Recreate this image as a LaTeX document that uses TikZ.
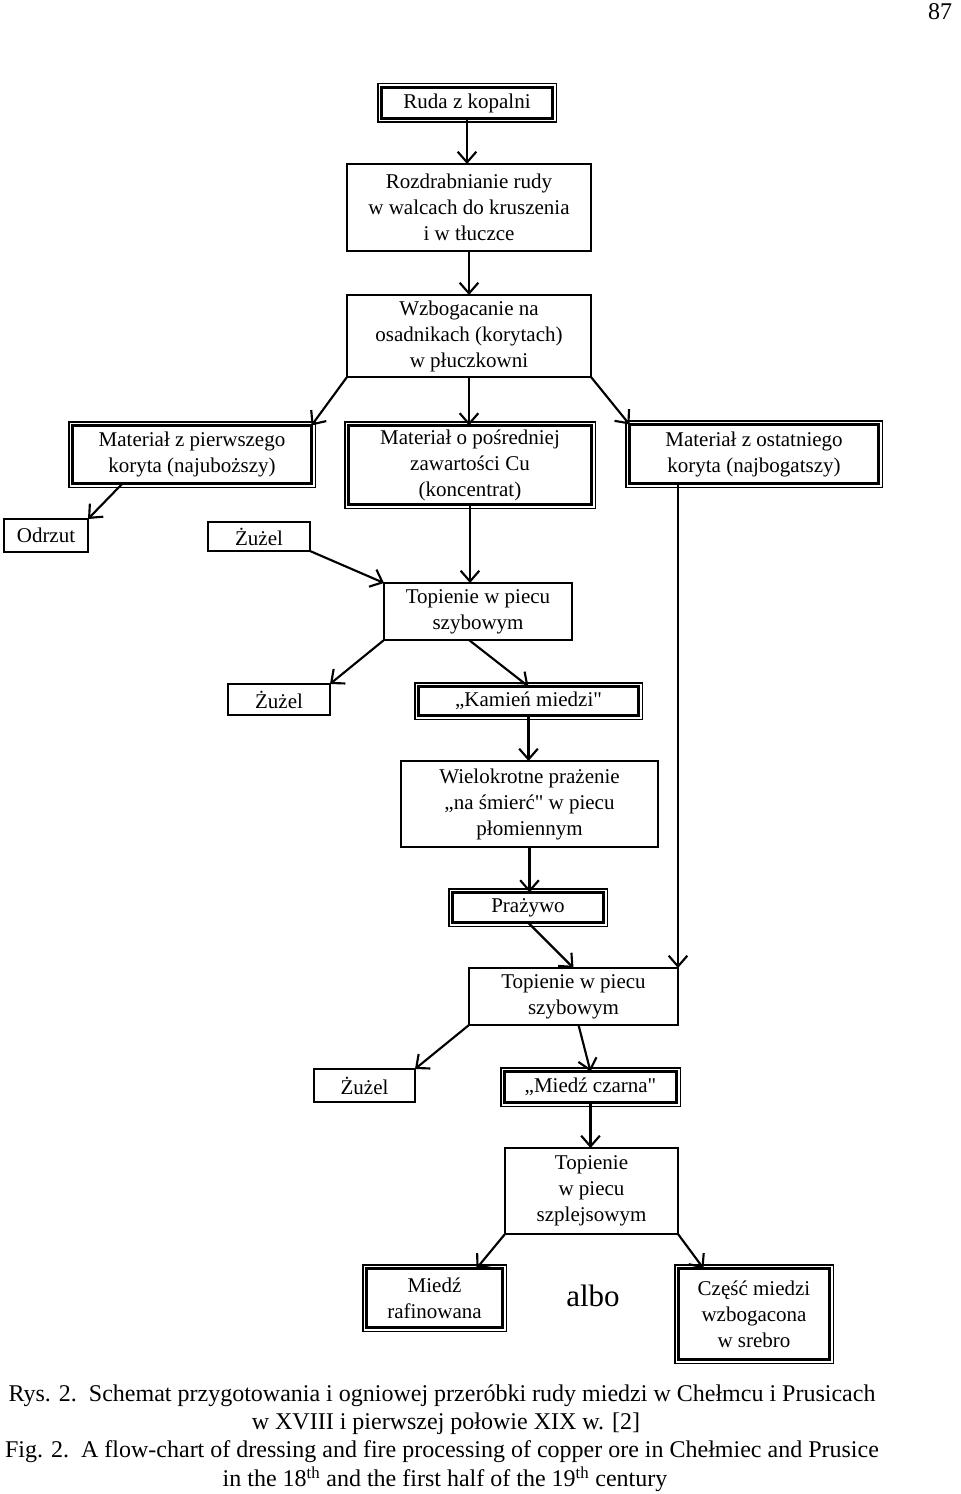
\documentclass[tikz,border=0pt]{standalone}
\usepackage{fontspec}
\setmainfont{Liberation Serif}[Ligatures=TeXOff]
\usetikzlibrary{arrows.meta,calc}
\newcommand\dblframe[1]{\draw[line width=0.9pt] ([shift={(-2.7pt,2.7pt)}]#1.north west) rectangle ([shift={(2.7pt,-2.7pt)}]#1.south east);}
\begin{document}
\begin{tikzpicture}[x=0.75pt,y=-0.75pt,
 box/.style={draw, line width=1.9pt, inner sep=0pt, outer sep=0pt, align=center,
   font=\fontsize{15.75pt}{19.5pt}\selectfont},
 dbox/.style={box, line width=1.6pt},
 sz/.style 2 args={minimum width=#1*0.75pt, minimum height=#2*0.75pt},
 arr/.style={line width=1.6pt, -{Straight Barb[length=8pt,width=14pt,line width=1.6pt]}},
 captext/.style={inner sep=0pt, font=\fontsize{18pt}{18pt}\selectfont},
]
\useasboundingbox (0,0) rectangle (960,1494);

\node[captext] (pg) at (940,12) {87};

\node[dbox, sz={171}{31}] (ruda) at (467,103) {Ruda z kopalni};
\dblframe{ruda}
\node[box, sz={244}{87}] (rozd) at (469,207.5) {Rozdrabnianie rudy\\w walcach do kruszenia\\i w tłuczce};
\node[box, sz={244}{82}] (wzbog) at (469,336) {Wzbogacanie na\\osadnikach (korytach)\\w płuczkowni};

\node[dbox, sz={239}{58}] (left) at (192,454.5) {Materiał z pierwszego\\koryta (najuboższy)};
\dblframe{left}
\node[dbox, sz={243}{79}] (mid) at (470,465) {Materiał o pośredniej\\zawartości Cu\\(koncentrat)};
\dblframe{mid}
\node[dbox, sz={249}{59}] (right) at (754,454) {Materiał z ostatniego\\koryta (najbogatszy)};
\dblframe{right}

\node[box, sz={84}{33}] (odrzut) at (46,535.5) {Odrzut};
\node[box, sz={102}{29}] (zuz1) at (259,536.5) {Żużel};
\node[box, sz={188}{57}] (top1) at (478,611.5) {Topienie w piecu\\szybowym};
\node[box, sz={102}{31}] (zuz2) at (279,699.5) {Żużel};
\node[dbox, sz={220}{29}] (kamien) at (528.5,701) {„Kamień miedzi"};
\dblframe{kamien}
\node[box, sz={257}{86}] (wielo) at (529.5,804) {Wielokrotne prażenie\\„na śmierć" w piecu\\płomiennym};
\node[dbox, sz={151}{30}] (praz) at (528,907.5) {Prażywo};
\dblframe{praz}
\node[box, sz={209}{57}] (top2) at (573.5,996.5) {Topienie w piecu\\szybowym};
\node[box, sz={101}{33}] (zuz3) at (364.5,1085.5) {Żużel};
\node[dbox, sz={172}{31}] (czarna) at (590.5,1087) {„Miedź czarna"};
\dblframe{czarna}
\node[box, sz={173}{86}] (top3) at (591.5,1191) {Topienie\\w piecu\\szplejsowym};
\node[dbox, sz={136}{59}] (raf) at (434.5,1298) {Miedź\\rafinowana};
\dblframe{raf}
\node[dbox, sz={151}{91}] (czesc) at (754,1314) {Część miedzi\\wzbogacona\\w srebro};
\dblframe{czesc}
\node[inner sep=0pt, anchor=base, font=\fontsize{23.25pt}{23.25pt}\selectfont] (albo) at (593,1306) {albo};

\draw[arr] (ruda.south) -- (ruda.south |- rozd.north);
\draw[arr] (rozd.south) -- (rozd.south |- wzbog.north);
\draw[arr] (wzbog.south west) -- (left.north east);
\draw[arr] (wzbog.south) -- (wzbog.south |- mid.north);
\draw[arr] (wzbog.south east) -- (right.north west);
\draw[arr] ($(left.south west)+(50,0)$) -- (odrzut.north east);
\draw[arr] (zuz1.south east) -- (top1.north west);
\draw[arr] (mid.south) -- (mid.south |- top1.north);
\draw[arr] (top1.south west) -- (zuz2.north east);
\draw[arr] ($(top1.south)+(-9,0)$) -- (kamien.north);
\draw[arr] (kamien.south) -- (kamien.south |- wielo.north);
\draw[arr] (wielo.south) -- (wielo.south |- praz.north);
\draw[arr] (praz.south) -- (top2.north);
\draw[arr] (right.south -| top2.north east) -- (top2.north east);
\draw[arr] (top2.south west) -- (zuz3.north east);
\draw[arr] ($(top2.south)+(5,0)$) -- (czarna.north);
\draw[arr] (czarna.south) -- (czarna.south |- top3.north);
\draw[arr] (top3.south west) -- ($(raf.north east)+(-26,0)$);
\draw[arr] (top3.south east) -- ($(czesc.north west)+(25,0)$);

\node[captext] (cap1) at (442,1396) {Rys. 2.\hspace{0.5em}Schemat przygotowania i ogniowej przeróbki rudy miedzi w Chełmcu i Prusicach};
\node[captext] (cap2) at (446,1424) {w XVIII i pierwszej połowie XIX w. [2]};
\node[captext] (cap3) at (442,1452) {Fig. 2.\hspace{0.5em}A flow-chart of dressing and fire processing of copper ore in Chełmiec and Prusice};
\node[captext] (cap4) at (445,1479) {in the 18\textsuperscript{th} and the first half of the 19\textsuperscript{th} century};
\end{tikzpicture}
\end{document}
